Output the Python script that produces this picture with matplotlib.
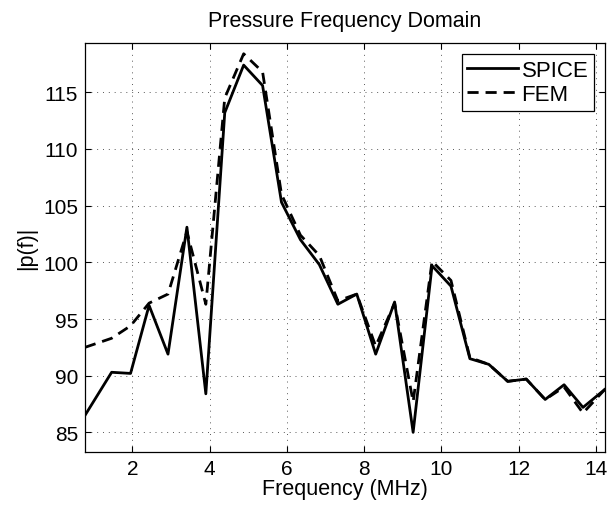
import matplotlib
matplotlib.use("Agg")
import matplotlib.pyplot as plt

plt.rcParams['font.family'] = ['Liberation Sans', 'DejaVu Sans']

freq = [0.77, 1.46, 1.95, 2.43, 2.92, 3.41, 3.90, 4.39, 4.88, 5.37, 5.86, 6.35,
        6.84, 7.32, 7.81, 8.30, 8.79, 9.27, 9.76, 10.25, 10.74, 11.23, 11.72,
        12.20, 12.69, 13.18, 13.67, 14.24]
spice = [86.5, 90.3, 90.2, 96.2, 91.9, 103.1, 88.4, 113.2, 117.4, 115.6, 105.3,
         102.0, 99.8, 96.3, 97.2, 91.9, 96.5, 85.0, 99.7, 97.9, 91.5, 91.0, 89.5,
         89.7, 87.9, 89.2, 87.2, 88.8]
fem = [92.5, 93.3, 94.4, 96.4, 97.2, 102.7, 96.3, 114.5, 118.4, 116.8, 106.0,
       102.4, 100.6, 96.6, 97.2, 92.6, 96.4, 87.7, 100.1, 98.4, 91.6, 91.0, 89.5,
       89.7, 87.9, 89.0, 86.7, 88.8]

xticks = [2, 4, 6, 8, 10, 12, 14]
yticks = [85, 90, 95, 100, 105, 110, 115]

fig = plt.figure(figsize=(6.16, 5.06), dpi=100)
ax = fig.add_axes([85/616, 1 - 453.3/506, (605 - 85)/616, (453.3 - 44)/506])

ax.plot(freq, spice, color='black', lw=2.0, label='SPICE')
ax.plot(freq, fem, color='black', lw=2.0, dashes=(4.0, 2.5), label='FEM')

ax.set_xlim(0.77, 14.24)
ax.set_ylim(83.24, 119.35)
ax.set_xticks(xticks)
ax.set_yticks(yticks)
ax.tick_params(direction='in', length=4, width=0.8, top=True, right=True,
               labelsize=15, pad=5)
for s in ax.spines.values():
    s.set_linewidth(0.9)
ax.grid(True, color='0.35', lw=0.7, linestyle=(0, (1, 5)))

ax.set_title('Pressure Frequency Domain', fontsize=15.5, pad=12)
ax.set_xlabel('Frequency (MHz)', fontsize=15.5, labelpad=0)
ax.set_ylabel('|p(f)|', fontsize=15.5, labelpad=4)

leg = ax.legend(loc='upper right', fontsize=16, frameon=True, fancybox=False,
                edgecolor='black', framealpha=1, handlelength=2.3,
                handletextpad=0.15, borderpad=0.25, labelspacing=0.15,
                borderaxespad=0.5)
leg.get_frame().set_linewidth(0.9)

fig.savefig('out.png', dpi=100)
